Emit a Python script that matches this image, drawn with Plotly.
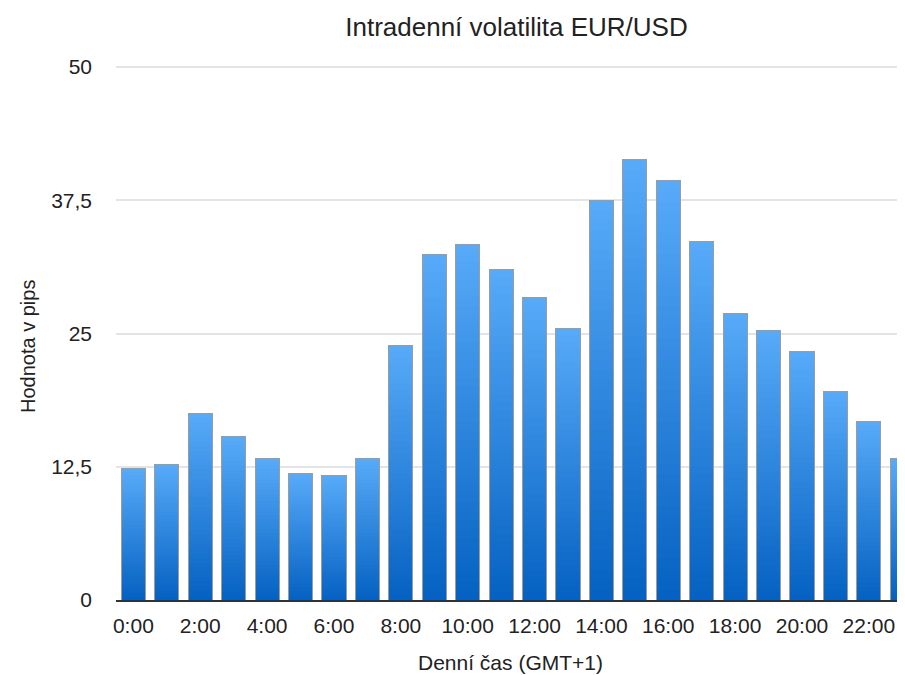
import plotly.graph_objects as go

# --- data ---
HOURS = list(range(24))
VOLATILITY = [12.3, 12.7, 17.5, 15.3, 13.3, 11.85, 11.65, 13.3,
              23.9, 32.4, 33.4, 31.0, 28.4, 25.5, 37.5, 41.35,
              39.35, 33.65, 26.9, 25.3, 23.3, 19.6, 16.75, 13.3]
X_TICKS = list(range(0, 24, 2))
X_TICK_TEXT = [f"{h}:00" for h in X_TICKS]
Y_TICKS = [0, 12.5, 25, 37.5, 50]
Y_TICK_TEXT = ["0", "12,5", "25", "37,5", "50"]

TOP_RGB = (86, 170, 248)
BOTTOM_RGB = (6, 98, 194)
N_STEPS = 40
FONT = "Liberation Sans, Arial, sans-serif"
TXT = "#222222"

# page body adds an 8px margin; the figure runs a bit past the right edge
# so the last bar is cut by the window, as in the original
W, H = 905, 667
PLOT_W = W - 108


def mix(t):
    r, g, b = (round(BOTTOM_RGB[i] + (TOP_RGB[i] - BOTTOM_RGB[i]) * t) for i in range(3))
    return f"rgb({r},{g},{b})"


fig = go.Figure()

# gradient bars: each bar stacked from thin slices, dark at the base, light at the top
for k in range(N_STEPS):
    fig.add_trace(go.Bar(
        x=HOURS, y=[v / N_STEPS for v in VOLATILITY],
        marker=dict(color=mix(k / (N_STEPS - 1)), line=dict(width=0)),
        showlegend=False, hoverinfo="skip",
    ))

# thin grey outline on top, on an overlaid axis so it doesn't stack
fig.add_trace(go.Bar(
    x=HOURS, y=VOLATILITY, xaxis="x2", yaxis="y2",
    marker=dict(color="rgba(0,0,0,0)", line=dict(color="#9c9c9c", width=1)),
    showlegend=False,
    hovertemplate="%{x}:00<br>%{y:.1f} pips<extra></extra>",
))

x_range = [-0.52, 23.32]
y_range = [0, 50.2]

fig.update_layout(
    width=W, height=H,
    barmode="stack", bargap=0.28,
    paper_bgcolor="white", plot_bgcolor="white",
    margin=dict(l=108, r=0, t=57, b=75),
    font=dict(family=FONT, color=TXT, size=21),
    title=dict(text="Intradenní volatilita EUR/USD",
               font=dict(size=26, color=TXT),
               x=508.5 / W, xanchor="center", xref="container",
               y=1 - 19 / H, yanchor="middle", yref="container"),
    xaxis=dict(range=x_range, tickvals=X_TICKS, ticktext=X_TICK_TEXT,
               showgrid=False, zeroline=False,
               showline=True, linecolor="#333333", linewidth=2,
               ticks="", ticklabelstandoff=6,
               tickfont=dict(size=21, color=TXT)),
    yaxis=dict(range=y_range, tickvals=Y_TICKS, ticktext=Y_TICK_TEXT,
               showgrid=True, gridcolor="#e4e4e4", gridwidth=2,
               zeroline=False, showline=False, ticks="",
               ticklabelstandoff=23,
               tickfont=dict(size=21, color=TXT)),
    xaxis2=dict(range=x_range, overlaying="x", visible=False),
    yaxis2=dict(range=y_range, overlaying="y", visible=False),
    annotations=[
        dict(text="Denní čas (GMT+1)", xref="paper", yref="paper",
             x=(510.5 - 116) / PLOT_W, y=(600 - 662) / 535,
             xanchor="center", yanchor="middle",
             showarrow=False, font=dict(size=21, color=TXT)),
        dict(text="Hodnota v pips", xref="paper", yref="paper",
             x=(28 - 116) / PLOT_W, y=(600 - 347) / 535, textangle=-90,
             xanchor="center", yanchor="middle",
             showarrow=False, font=dict(size=20, color=TXT)),
    ],
)

fig.write_html("out.html")
